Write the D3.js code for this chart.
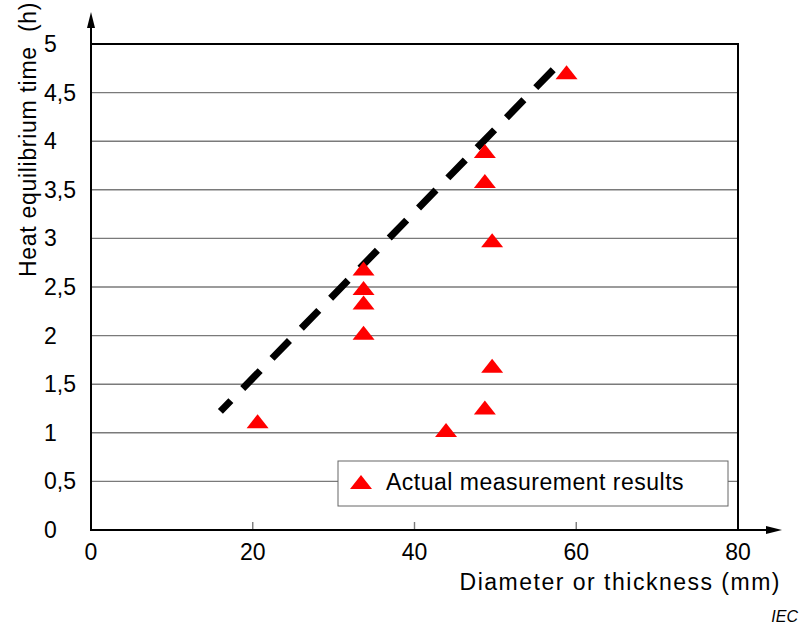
<!DOCTYPE html>
<html>
<head>
<meta charset="utf-8">
<script src="https://cdn.jsdelivr.net/npm/d3@7"></script>
<style>
  body { margin: 0; background: #fff; }
  text { font-family: Arial, "Liberation Sans", sans-serif; fill: #000; }
</style>
</head>
<body>
<svg width="802" height="628"></svg>
<script>
// measured points (mm, h)
var diameter = [20.6, 33.7, 33.7, 33.7, 33.7, 43.9, 48.7, 48.7, 48.7, 49.6, 49.6, 58.8];
var hours    = [1.12, 2.03, 2.34, 2.49, 2.69, 1.03, 1.26, 3.59, 3.90, 1.69, 2.98, 4.71];

// dashed trend line end points
var trendX = [16.0, 57.2];
var trendY = [1.22, 4.74];

var xTicks = [0, 20, 40, 60, 80];
var yTicks = [0, 0.5, 1, 1.5, 2, 2.5, 3, 3.5, 4, 4.5, 5];
var yTickLabels = ["0", "0,5", "1", "1,5", "2", "2,5", "3", "3,5", "4", "4,5", "5"];

var svg = d3.select('svg');

var x = d3.scaleLinear().domain([0, 80]).range([91, 738]);
var y = d3.scaleLinear().domain([0, 5]).range([530, 44]);

// grid lines
svg.append('g')
  .selectAll('line')
  .data(yTicks.filter(d => d > 0 && d < 5))
  .enter()
  .append('line')
  .attr('x1', x(0)).attr('x2', x(80))
  .attr('y1', d => y(d)).attr('y2', d => y(d))
  .attr('stroke', '#7a7a7a')
  .attr('stroke-width', 1.4);

// small x ticks
svg.append('g')
  .selectAll('line')
  .data(xTicks.filter(d => d > 0 && d < 80))
  .enter()
  .append('line')
  .attr('x1', d => x(d)).attr('x2', d => x(d))
  .attr('y1', y(0)).attr('y2', y(0) - 8)
  .attr('stroke', '#7a7a7a')
  .attr('stroke-width', 1.4);

// frame top and right
svg.append('path')
  .attr('d', `M${x(0)},${y(5)}H${x(80)}V${y(0)}`)
  .attr('fill', 'none')
  .attr('stroke', '#000')
  .attr('stroke-width', 2);

// axes with arrows
svg.append('line')
  .attr('x1', x(0)).attr('x2', x(0))
  .attr('y1', y(0) + 1).attr('y2', 26)
  .attr('stroke', '#000').attr('stroke-width', 2);
svg.append('path')
  .attr('d', `M${x(0)},12L${x(0) + 4},28L${x(0) - 4},28Z`)
  .attr('fill', '#000');

svg.append('line')
  .attr('x1', x(0) - 1).attr('x2', 768)
  .attr('y1', y(0)).attr('y2', y(0))
  .attr('stroke', '#000').attr('stroke-width', 2);
svg.append('path')
  .attr('d', `M782,${y(0)}L766,${y(0) - 4}L766,${y(0) + 4}Z`)
  .attr('fill', '#000');

// tick labels
svg.append('g')
  .selectAll('text')
  .data(yTicks)
  .enter()
  .append('text')
  .attr('x', 44)
  .attr('y', d => y(d) + 8)
  .attr('font-size', 23)
  .text((d, i) => yTickLabels[i]);

svg.append('g')
  .selectAll('text')
  .data(xTicks)
  .enter()
  .append('text')
  .attr('x', d => x(d))
  .attr('y', 560)
  .attr('text-anchor', 'middle')
  .attr('font-size', 23)
  .text(d => d);

// axis titles
svg.append('text')
  .attr('x', 781)
  .attr('y', 590)
  .attr('text-anchor', 'end')
  .attr('font-size', 23)
  .attr('letter-spacing', 1.5)
  .text('Diameter or thickness (mm)');

svg.append('text')
  .attr('transform', 'translate(36,277) rotate(-90)')
  .attr('font-size', 23)
  .attr('letter-spacing', 0.7)
  .attr('xml:space', 'preserve')
  .style('white-space', 'pre')
  .text('Heat equilibrium time  (h)');

svg.append('text')
  .attr('x', 798)
  .attr('y', 622)
  .attr('text-anchor', 'end')
  .attr('font-size', 16)
  .attr('font-style', 'italic')
  .text('IEC');

// dashed trend line
var line = d3.line().x(d => x(d[0])).y(d => y(d[1]));
svg.append('path')
  .datum(d3.zip(trendX, trendY))
  .attr('d', line)
  .attr('fill', 'none')
  .attr('stroke', '#000')
  .attr('stroke-width', 7)
  .attr('stroke-dasharray', '25,17')
  .attr('stroke-dashoffset', 10);

// flat triangle marker
var flatTriangle = {
  draw: function(context, size) {
    var w = 11, h = 7;
    context.moveTo(0, -h);
    context.lineTo(w, h);
    context.lineTo(-w, h);
    context.closePath();
  }
};
var tri = d3.symbol().type(flatTriangle);

svg.append('g')
  .selectAll('path')
  .data(d3.zip(diameter, hours))
  .enter()
  .append('path')
  .attr('transform', d => `translate(${x(d[0])},${y(d[1])})`)
  .attr('d', tri)
  .attr('fill', '#ff0000');

// legend
var lg = svg.append('g');
lg.append('rect')
  .attr('x', 338).attr('y', 461)
  .attr('width', 390).attr('height', 45)
  .attr('fill', '#fff')
  .attr('stroke', '#666')
  .attr('stroke-width', 1);
lg.append('path')
  .attr('transform', 'translate(361,482)')
  .attr('d', tri)
  .attr('fill', '#ff0000');
lg.append('text')
  .attr('x', 386)
  .attr('y', 490)
  .attr('font-size', 23)
  .attr('letter-spacing', 0.5)
  .text('Actual measurement results');
</script>
</body>
</html>
